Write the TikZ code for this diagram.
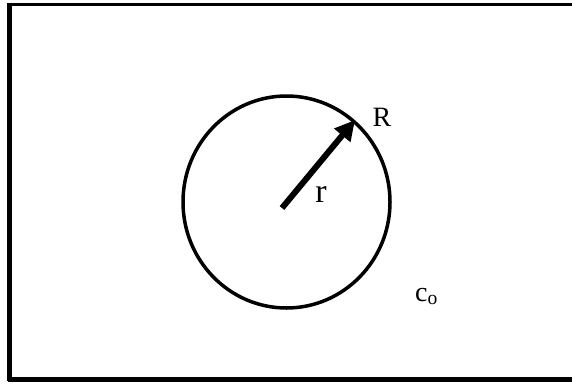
\documentclass[tikz,border=0pt]{standalone}
\usepackage{fontspec}
\setmainfont{Liberation Serif}
\usetikzlibrary{arrows.meta}
\tikzset{
  frameline/.style={line width=#1, black},
  ring/.style={line width=3.5pt, black},
  radius arrow/.style={line width=6pt, -{Triangle[length=20pt,width=20pt]}},
  lbl/.style={inner sep=0pt, font=\fontsize{#1}{#1}\selectfont}
}
\begin{document}
\begin{tikzpicture}[x=1pt,y=-1pt]
\useasboundingbox (0,0) rectangle (572,383);
\fill[white] (0,0) rectangle (572,383);
% frame
\draw[frameline=5pt] (9.5,3) -- (9.5,381);
\draw[frameline=3pt] (8,4.5) -- (572,4.5);
\draw[frameline=5pt] (8,379) -- (572,379);
% circle
\coordinate (O) at (286.5,202);
\draw[ring] (O) ellipse [x radius=103.5, y radius=106];
\coordinate (T) at (282,208);
\coordinate (P) at (355,120);
\draw[radius arrow] (T) -- (P);
\node[lbl=28] (R) at (382,117) {R};
\node[lbl=34] (r) at (321,194) {r};
\node[lbl=28, anchor=base west] (c) at (415,301) {c\textsubscript{o}};
\end{tikzpicture}
\end{document}
